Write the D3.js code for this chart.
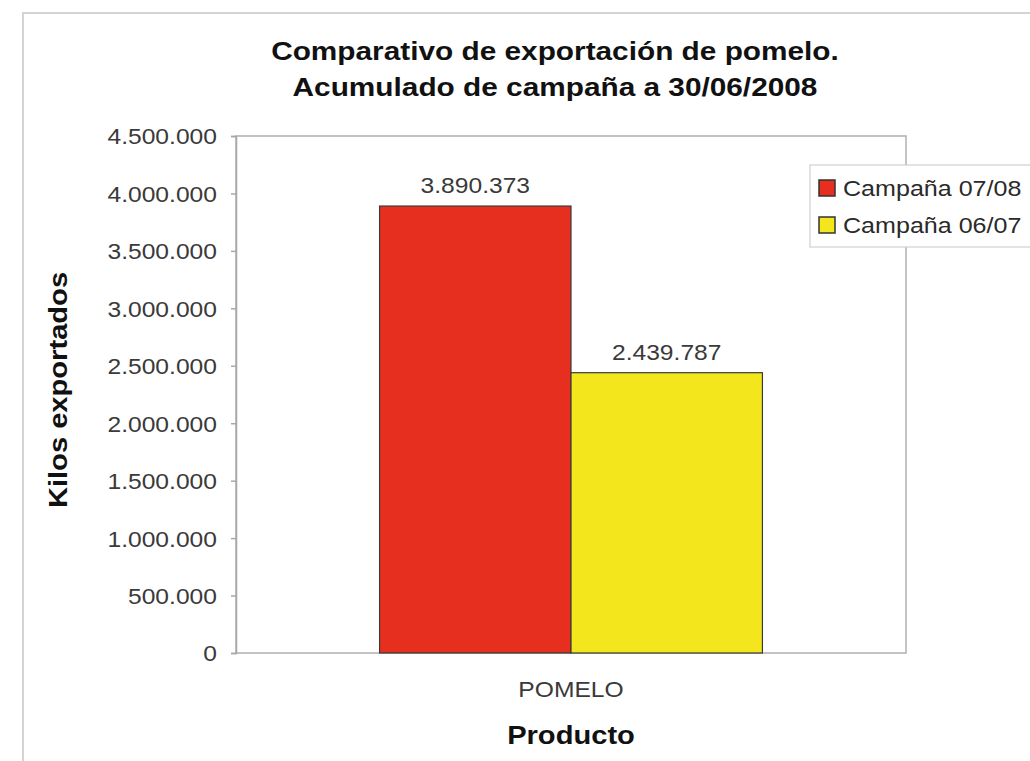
<!DOCTYPE html>
<html>
<head>
<meta charset="utf-8">
<script src="https://cdn.jsdelivr.net/npm/d3@7"></script>
<style>
  html, body { margin: 0; padding: 0; background: #fff; }
  svg { display: block; font-family: "Liberation Sans", Arial, sans-serif; }
</style>
</head>
<body>
<svg id="chart" width="1030" height="761"></svg>
<script>
// ---- data ----
const categories = ["POMELO"];
const seriesNames = ["Campaña 07/08", "Campaña 06/07"];
const values0708 = [3890373];
const values0607 = [2439787];
const yTicks = [0, 500000, 1000000, 1500000, 2000000, 2500000, 3000000, 3500000, 4000000, 4500000];
const titleLines = ["Comparativo de exportación de pomelo.", "Acumulado de campaña a 30/06/2008"];
const yAxisTitle = "Kilos exportados";
const xAxisTitle = "Producto";

const colors = ["#e62f1f", "#f3e61c"];
const SX = 1.12; // horizontal glyph stretch

const svg = d3.select("#chart");
const locale = d3.formatLocale({ decimal: ",", thousands: ".", grouping: [3], currency: ["", ""] });
const fmt = locale.format(",d");

const plot = { left: 236, right: 906, top: 136, bottom: 653 };

// outer frame
svg.append("rect")
  .attr("x", 23).attr("y", 13).attr("width", 1040).attr("height", 780)
  .attr("fill", "#fff").attr("stroke", "#d4d4d4").attr("stroke-width", 2);

const y = d3.scaleLinear().domain([0, 4500000]).range([plot.bottom, plot.top]);
const x0 = d3.scaleBand().domain(categories).range([plot.left, plot.right])
  .paddingInner(0).paddingOuter(0.375);
const x1 = d3.scaleBand().domain(seriesNames).range([0, x0.bandwidth()]);

// plot area border
svg.append("rect")
  .attr("x", plot.left).attr("y", plot.top)
  .attr("width", plot.right - plot.left).attr("height", plot.bottom - plot.top)
  .attr("fill", "#fff").attr("stroke", "#b0b0b0").attr("stroke-width", 1.5);

// y axis
const yAxis = svg.append("g")
  .attr("transform", `translate(${plot.left},0)`)
  .call(d3.axisLeft(y).tickValues(yTicks).tickFormat(fmt).tickSize(5).tickPadding(14));
yAxis.select(".domain").attr("stroke", "#a8a8a8").attr("stroke-width", 1.5);
yAxis.selectAll(".tick line").attr("stroke", "#a8a8a8").attr("stroke-width", 1.5);
yAxis.selectAll(".tick text")
  .attr("font-size", 22).attr("fill", "#3a3a3a")
  .attr("font-family", "'Liberation Sans', Arial, sans-serif")
  .attr("x", null).attr("dy", "0.36em")
  .attr("transform", `translate(-19,0) scale(${SX},1)`);

// bars
const data = categories.map((c, i) => ({ cat: c, vals: [values0708[i], values0607[i]] }));
const groups = svg.append("g").selectAll("g").data(data).join("g")
  .attr("transform", d => `translate(${x0(d.cat)},0)`);
groups.selectAll("rect")
  .data(d => d.vals.map((v, j) => ({ name: seriesNames[j], v, j })))
  .join("rect")
  .attr("x", d => x1(d.name))
  .attr("y", d => y(d.v))
  .attr("width", x1.bandwidth())
  .attr("height", d => y(0) - y(d.v))
  .attr("fill", d => colors[d.j])
  .attr("stroke", "#3a3a3a").attr("stroke-width", 1.2);

// data labels
groups.selectAll("text.lbl")
  .data(d => d.vals.map((v, j) => ({ name: seriesNames[j], v, j })))
  .join("text")
  .attr("class", "lbl")
  .attr("transform", d => `translate(${x1(d.name) + x1.bandwidth() / 2},${y(d.v) - 13}) scale(${SX},1)`)
  .attr("text-anchor", "middle")
  .attr("font-size", 22).attr("fill", "#3a3a3a")
  .text(d => fmt(d.v));

// x category labels
svg.append("g").selectAll("text").data(categories).join("text")
  .attr("transform", d => `translate(${x0(d) + x0.bandwidth() / 2},697) scale(${SX},1)`)
  .attr("text-anchor", "middle")
  .attr("font-size", 22).attr("fill", "#3a3a3a")
  .text(d => d);

// axis titles
svg.append("text")
  .attr("transform", `translate(${(plot.left + plot.right) / 2},744) scale(${SX},1)`)
  .attr("text-anchor", "middle").attr("font-size", 26).attr("font-weight", "bold")
  .attr("fill", "#111").text(xAxisTitle);

svg.append("text")
  .attr("transform", `translate(67,390) rotate(-90) scale(${SX},1)`)
  .attr("text-anchor", "middle").attr("font-size", 26).attr("font-weight", "bold")
  .attr("fill", "#111").text(yAxisTitle);

// title
svg.append("g").selectAll("text").data(titleLines).join("text")
  .attr("transform", (d, i) => `translate(555,${60 + i * 36}) scale(${SX},1)`)
  .attr("text-anchor", "middle").attr("font-size", 26.6).attr("font-weight", "bold")
  .attr("fill", "#111").text(d => d);

// legend
const leg = svg.append("g");
leg.append("rect")
  .attr("x", 810).attr("y", 165).attr("width", 240).attr("height", 82)
  .attr("fill", "#fff").attr("stroke", "#d0d0d0").attr("stroke-width", 1.2);
const items = leg.selectAll("g.item").data(seriesNames).join("g")
  .attr("class", "item")
  .attr("transform", (d, i) => `translate(819,${180 + i * 37})`);
items.append("rect")
  .attr("width", 16).attr("height", 16)
  .attr("fill", (d, i) => colors[i]).attr("stroke", "#333").attr("stroke-width", 1.5);
items.append("text")
  .attr("transform", `translate(24,16) scale(${SX},1)`)
  .attr("font-size", 22.4).attr("fill", "#2a2a2a")
  .text(d => d);
</script>
</body>
</html>
